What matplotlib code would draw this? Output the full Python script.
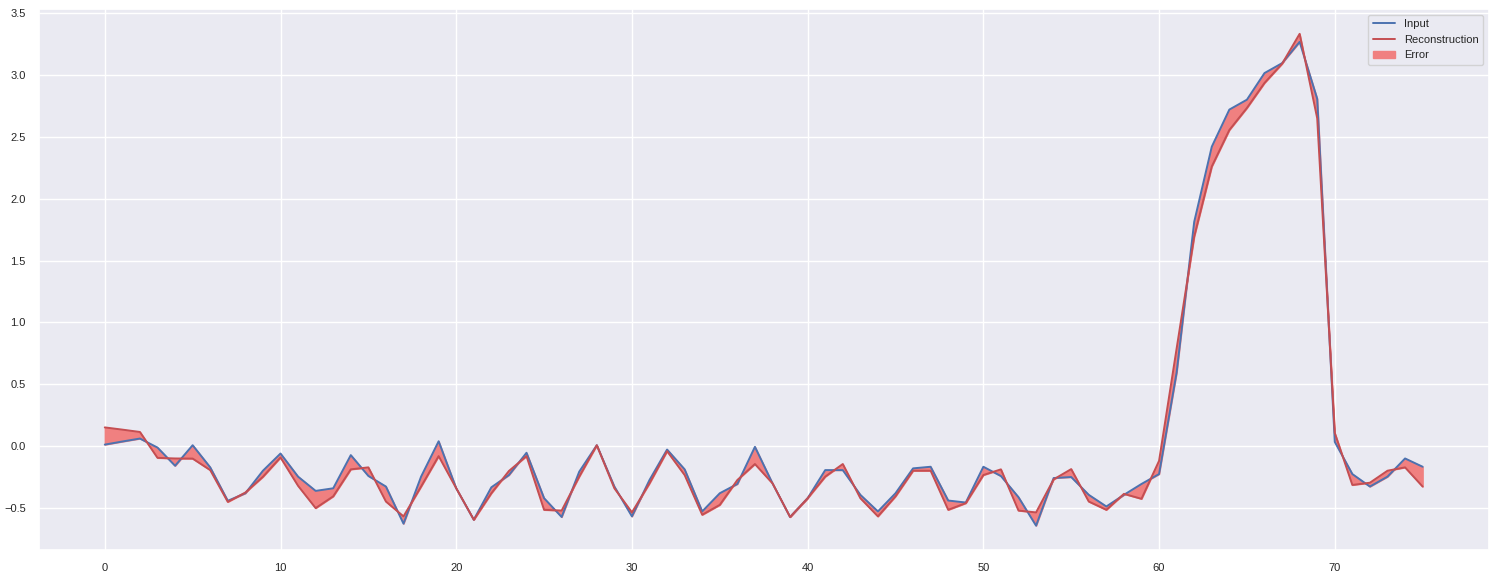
import numpy as np
import matplotlib
matplotlib.use('Agg')
import matplotlib.pyplot as plt
import seaborn as sns

# values
input_vals = [0.013, 0.038, 0.062, -0.011, -0.158, 0.008, -0.171, -0.441, -0.380, -0.198,
              -0.059, -0.246, -0.361, -0.340, -0.072, -0.240, -0.326, -0.626, -0.246, 0.040,
              -0.340, -0.594, -0.332, -0.233, -0.053, -0.420, -0.572, -0.206, 0.008, -0.326,
              -0.567, -0.273, -0.027, -0.187, -0.527, -0.380, -0.305, -0.005, -0.300, -0.572,
              -0.420, -0.193, -0.193, -0.393, -0.527, -0.380, -0.179, -0.166, -0.439, -0.455,
              -0.166, -0.241, -0.412, -0.642, -0.257, -0.249, -0.393, -0.487, -0.393, -0.305,
              -0.225, 0.596, 1.813, 2.420, 2.720, 2.800, 3.015, 3.095, 3.267, 2.807,
              0.035, -0.225, -0.326, -0.246, -0.099, -0.166]
recon_vals = [0.152, 0.134, 0.115, -0.094, -0.099, -0.100, -0.193, -0.450, -0.374, -0.247,
              -0.091, -0.320, -0.500, -0.405, -0.187, -0.171, -0.447, -0.567, -0.326, -0.080,
              -0.340, -0.594, -0.380, -0.200, -0.080, -0.514, -0.520, -0.246, 0.008, -0.340,
              -0.535, -0.300, -0.040, -0.233, -0.554, -0.474, -0.273, -0.144, -0.300, -0.572,
              -0.420, -0.246, -0.144, -0.420, -0.567, -0.405, -0.198, -0.198, -0.514, -0.460,
              -0.233, -0.187, -0.520, -0.535, -0.268, -0.185, -0.447, -0.514, -0.385, -0.425,
              -0.118, 0.790, 1.694, 2.260, 2.555, 2.733, 2.935, 3.090, 3.332, 2.650,
              0.107, -0.313, -0.295, -0.198, -0.171, -0.326]
steps = np.arange(len(input_vals))

sns.set_theme(style='darkgrid')
plt.rcParams['font.family'] = ['Liberation Sans', 'DejaVu Sans']

fig, ax = plt.subplots(figsize=(14.96, 5.78), dpi=100)
ax.plot(steps, input_vals, color='#4c72b0', linewidth=1.4, label='Input')
ax.plot(steps, recon_vals, color='#c44e52', linewidth=1.4, label='Reconstruction')
ax.fill_between(steps, input_vals, recon_vals, color='lightcoral', label='Error')
ax.tick_params(labelsize=8)
ax.legend(loc='upper right', fontsize=8)

plt.subplots_adjust(left=0.026, right=0.995, top=0.984, bottom=0.048)
plt.savefig('out.png', dpi=100)
